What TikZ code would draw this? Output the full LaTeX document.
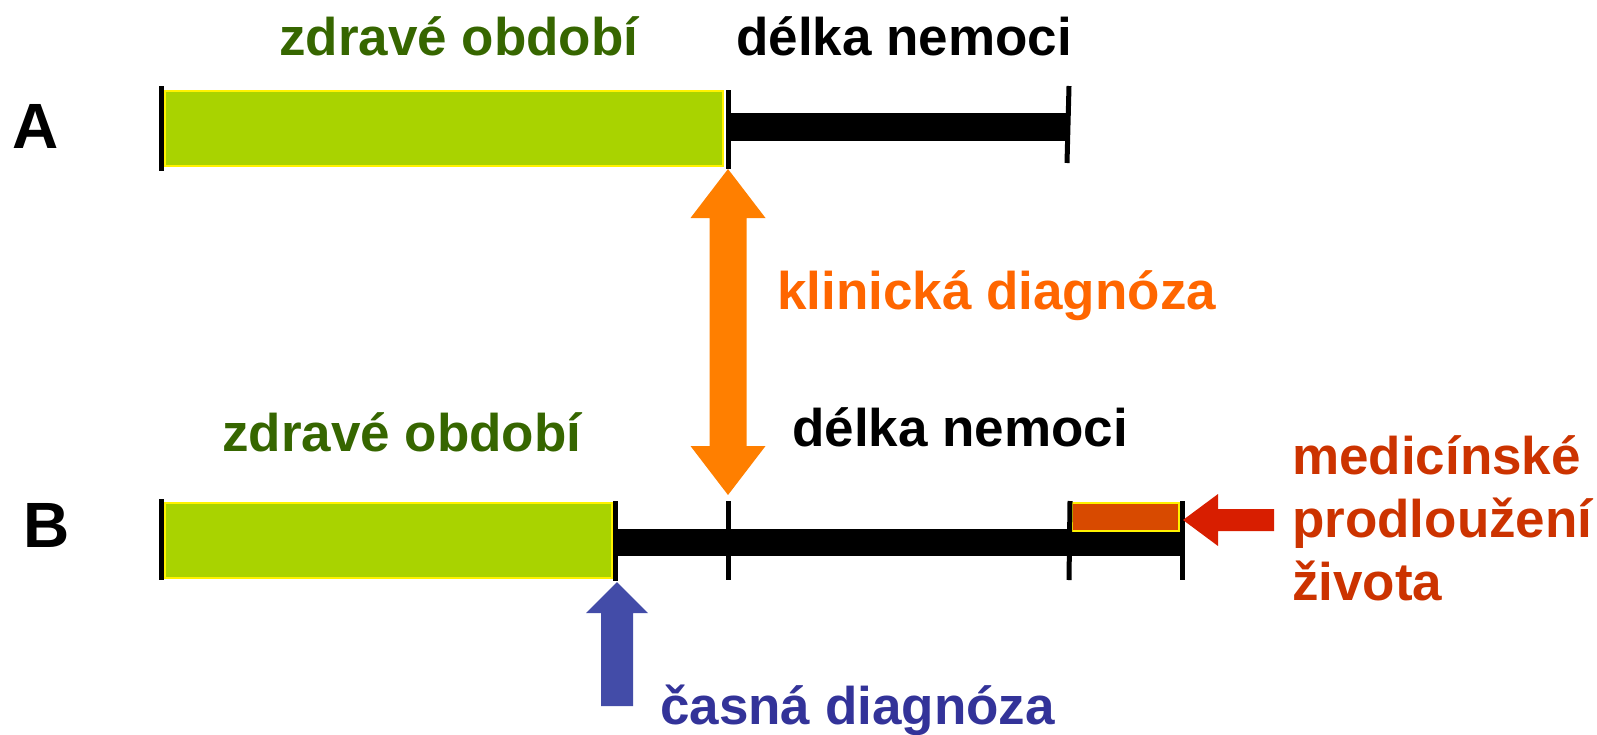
\documentclass[tikz,border=0pt]{standalone}
\usepackage{fontspec}
\setmainfont{Liberation Sans}
\definecolor{barGreen}{HTML}{A9D300}
\definecolor{txtGreen}{HTML}{366600}
\definecolor{clinOrange}{HTML}{FF7F00}
\definecolor{clinText}{HTML}{FF6600}
\definecolor{extRect}{HTML}{D84A00}
\definecolor{extArrow}{HTML}{D81E00}
\definecolor{extText}{HTML}{CC3300}
\definecolor{earlyArrow}{HTML}{434CA8}
\definecolor{earlyText}{HTML}{333399}
\begin{document}
\begin{tikzpicture}[x=1pt,y=-1pt,
  txt/.style={inner sep=0pt,anchor=base west,font=\fontsize{53}{63}\selectfont\bfseries},
  bigtxt/.style={inner sep=0pt,anchor=base west,font=\fontsize{64}{70}\selectfont\bfseries},
  tickline/.style={line width=5pt,black},
  healthy/.style={fill=barGreen,draw=yellow,line width=2pt},
  disease/.style={fill=black},
  extbox/.style={fill=extRect,draw=yellow,line width=2pt}]
\useasboundingbox (0,0) rectangle (1597,734);

% ---------- row A ----------
\node[bigtxt] (labA) at (12,148) {A};
\node[txt,text=txtGreen] (hlA) at (279,55) {zdravé období};
\node[txt] (dlA) at (736,55) {délka nemoci};
\fill[disease] (731,113) rectangle (1068,141);
\draw[healthy] (165,91) rectangle (723,166);
\coordinate (a0t) at (161,86);  \coordinate (a0b) at (161,171);
\coordinate (a1t) at (728,90);  \coordinate (a1b) at (728,169);
\coordinate (a2t) at (1069,86); \coordinate (a2b) at (1067,163);
\draw[tickline] (a0t) -- (a0b);
\draw[tickline] (a1t) -- (a1b);
\draw[tickline] (a2t) -- (a2b);

% ---------- row B ----------
\node[bigtxt] (labB) at (23,547) {B};
\node[txt,text=txtGreen] (hlB) at (222,451) {zdravé období};
\node[txt] (dlB) at (792,446) {délka nemoci};
\fill[disease] (617,529) rectangle (1182,556);
\draw[healthy] (165,503) rectangle (612,578);
\draw[extbox] (1072,503) rectangle (1179,531);
\coordinate (b0t) at (161,499);  \coordinate (b0b) at (161,580);
\coordinate (b1t) at (615,501);  \coordinate (b1b) at (615,581);
\coordinate (b2t) at (728,501);  \coordinate (b2b) at (728,580);
\coordinate (b3t) at (1070,501); \coordinate (b3b) at (1069,580);
\coordinate (b4t) at (1182,501); \coordinate (b4b) at (1182,580);
\foreach \t in {b0,b1,b2,b3,b4} \draw[tickline] (\t t) -- (\t b);

% ---------- clinical diagnosis double arrow ----------
\coordinate (clinTop) at (728,169);
\coordinate (clinBot) at (728,495);
\fill[clinOrange] (clinTop) -- ++(37.5,49) -- ++(-19,0) -- ++(0,228) -- ++(19,0)
  -- (clinBot) -- ++(-37.5,-49) -- ++(19,0) -- ++(0,-228) -- ++(-19,0) -- cycle;
\node[txt,text=clinText] (clin) at (777,309) {klinická diagnóza};

% ---------- early diagnosis arrow ----------
\coordinate (earlyTip) at (617,582);
\fill[earlyArrow] (earlyTip) -- ++(31,31) -- ++(-15,0) -- ++(0,93) -- ++(-32,0)
  -- ++(0,-93) -- ++(-15,0) -- cycle;
\node[txt,text=earlyText] (early) at (660,724) {časná diagnóza};

% ---------- medical extension arrow ----------
\coordinate (extTip) at (1183,520);
\fill[extArrow] (extTip) -- ++(35,-26) -- ++(0,15) -- ++(56,0) -- ++(0,22)
  -- ++(-56,0) -- ++(0,15) -- cycle;
\node[txt,text=extText,align=left,anchor=north west] (ext) at (1292,435)
  {medicínské\\prodloužení\\života};
\end{tikzpicture}
\end{document}
